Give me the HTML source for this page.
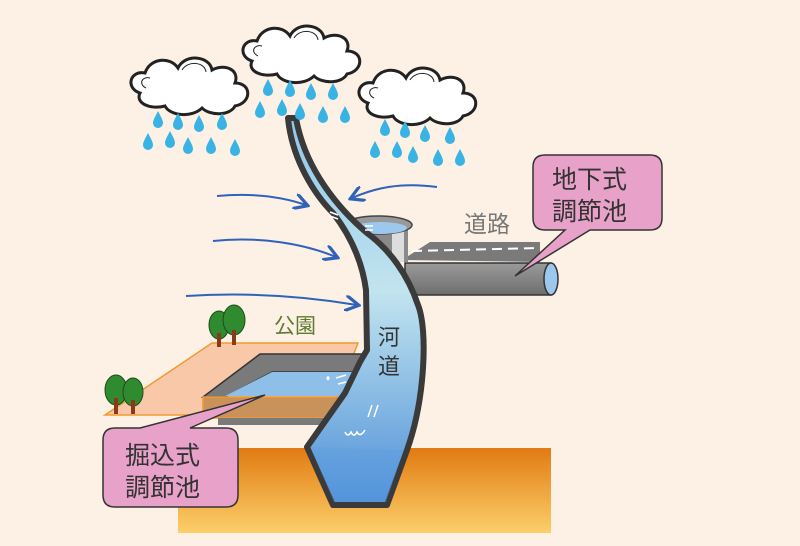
<!DOCTYPE html>
<html><head><meta charset="utf-8"><style>
body{margin:0;width:800px;height:546px;overflow:hidden;background:#fdf1e6}
svg{display:block}
text{font-family:"Liberation Sans","Noto Sans CJK JP",sans-serif}
</style></head><body>
<svg width="800" height="546" viewBox="0 0 800 546" xmlns="http://www.w3.org/2000/svg">
<defs>
<linearGradient id="gr" x1="0" y1="0" x2="0" y2="1"><stop offset="0" stop-color="#e27a12"/><stop offset="1" stop-color="#fbcf6a"/></linearGradient>
<linearGradient id="wt" x1="0" y1="0" x2="0" y2="1"><stop offset="0" stop-color="#8ec6ea"/><stop offset="0.45" stop-color="#c2e4ef"/><stop offset="1" stop-color="#4d8fd8"/></linearGradient>
<linearGradient id="pp" x1="0" y1="0" x2="0" y2="1"><stop offset="0" stop-color="#9a9a9a"/><stop offset="1" stop-color="#6e6e6e"/></linearGradient>
<path id="d" d="M0,-9 C3,-3 5,0 5,3 A5,5 0 0 1 -5,3 C-5,0 -3,-3 0,-9Z" fill="#38b3e4"/>
<g id="cl"><path d="M10,45 C-5,40 0,22 15,25 C20,10 40,8 48,20 C55,5 80,8 82,22 C95,15 110,22 105,35 C122,35 122,55 105,58 C100,68 80,68 72,60 C62,70 40,68 35,58 C20,62 5,55 10,45Z" fill="#fff" stroke="#222" stroke-width="3"/>
<path d="M16,40 C8,36 12,28 20,30 M52,22 C58,12 75,14 76,24" fill="none" stroke="#222" stroke-width="1"/></g>
<marker id="ah" markerWidth="8" markerHeight="8" refX="6" refY="4" orient="auto"><path d="M0,0 L7,4 L0,8" fill="none" stroke="#2f62b8" stroke-width="1.6"/></marker>
</defs>
<rect width="800" height="546" fill="#fdf1e6"/>
<!-- ground -->
<rect x="178" y="448" width="373" height="85" fill="url(#gr)"/>
<!-- park -->
<polygon points="105,415 212,343 358,343 330,415" fill="#f8c8a8" stroke="#f09a30" stroke-width="1.5"/>
<!-- trees -->
<g fill="#2f8a30" stroke="#1d4d1a" stroke-width="1">
<ellipse cx="219" cy="325" rx="10" ry="14"/><ellipse cx="234" cy="320" rx="11" ry="15"/>
<ellipse cx="116" cy="390" rx="11" ry="15"/><ellipse cx="133" cy="392" rx="10" ry="14"/></g>
<g fill="#8a3a18"><rect x="217" y="333" width="4" height="14"/><rect x="232" y="330" width="4" height="15"/><rect x="114" y="398" width="4" height="16"/><rect x="131" y="400" width="4" height="14"/></g>
<!-- dug pond -->
<polygon points="260,354 362,354 362,372 272,372 225,397 203,397" fill="#7a7a7a" stroke="#333" stroke-width="1.5"/>
<polygon points="272,372 362,372 350,396 225,396" fill="#8dbfe8"/>
<polygon points="203,397 342,397 330,418 203,418" fill="#c8925a" stroke="#f09a30" stroke-width="1.5"/>
<polygon points="218,418 330,418 330,425 218,425" fill="#7a7a7a"/>
<!-- road -->
<polygon points="402,260 430,242 540,242 540,262" fill="#7a7a7a"/>
<line x1="412" y1="251" x2="540" y2="248" stroke="#fff" stroke-width="2" stroke-dasharray="10,6"/>
<!-- pipe -->
<rect x="405" y="263" width="146" height="32" fill="url(#pp)" stroke="#333" stroke-width="1.5"/>
<ellipse cx="551" cy="279" rx="7" ry="16" fill="#9dc8ee" stroke="#333" stroke-width="1.5"/>
<!-- round pond -->
<rect x="372" y="224" width="36" height="38" fill="#8a8a8a"/>
<rect x="392" y="228" width="12" height="34" fill="#ddd"/>
<ellipse cx="378" cy="225" rx="34" ry="9" fill="#999" stroke="#444" stroke-width="1.5"/>
<ellipse cx="380" cy="228" rx="27" ry="6" fill="#9dc8ee"/>
<!-- river -->
<path d="M288,118 C292,160 315,195 333,213 C350,235 362,260 366,290 L367,350 L360,362 L345,393 L307,447 L333,505 L387,505 L407,450 C425,400 428,330 418,305 C408,275 390,250 367,233 C340,210 305,170 296,118Z" fill="url(#wt)" stroke="#3a3a3a" stroke-width="6" stroke-linejoin="round"/>
<polygon points="310,447 334,502 386,502 404,450" fill="#5c9ce0" opacity="0.35"/>
<g stroke="#fff" stroke-width="1.5" fill="none"><path d="M330,212 l8,3 M330,216 l8,3"/><path d="M365,226 l8,0 M365,230 l8,0"/><path d="M328,380 c-3,-4 3,-4 0,0 M336,378 l10,-3 M338,384 l8,-2"/><path d="M372,405 l-4,12 M378,405 l-4,12"/><path d="M345,432 q3,6 6,0 q3,6 6,0 q3,6 8,-2"/></g>
<!-- wind arrows -->
<g fill="none" stroke="#2f62b8" stroke-width="2" marker-end="url(#ah)">
<path d="M217,196 C250,193 280,196 306,205"/>
<path d="M213,241 C260,236 305,244 336,257"/>
<path d="M186,296 C250,292 310,297 357,305"/>
<path d="M437,187 C400,182 375,188 352,198"/>
</g>
<!-- clouds -->
<use href="#cl" transform="translate(130,48)"/>
<use href="#cl" transform="translate(242,16)"/>
<use href="#cl" transform="translate(358,58)"/>
<g>
<use href="#d" x="158" y="120"/><use href="#d" x="178" y="122"/><use href="#d" x="199" y="124"/><use href="#d" x="222" y="122"/>
<use href="#d" x="148" y="142"/><use href="#d" x="170" y="140"/><use href="#d" x="188" y="146"/><use href="#d" x="211" y="146"/><use href="#d" x="235" y="148"/>
<use href="#d" x="268" y="88"/><use href="#d" x="290" y="89"/><use href="#d" x="311" y="92"/><use href="#d" x="333" y="92"/>
<use href="#d" x="260" y="110"/><use href="#d" x="282" y="108"/><use href="#d" x="300" y="112"/><use href="#d" x="323" y="115"/><use href="#d" x="345" y="115"/>
<use href="#d" x="385" y="128"/><use href="#d" x="405" y="130"/><use href="#d" x="425" y="134"/><use href="#d" x="450" y="136"/>
<use href="#d" x="375" y="150"/><use href="#d" x="397" y="150"/><use href="#d" x="413" y="155"/><use href="#d" x="438" y="158"/><use href="#d" x="460" y="158"/>
</g>
<!-- labels -->
<text x="464" y="232" font-size="23" fill="#777">道路</text>
<text x="274" y="333" font-size="21" fill="#5e7a30">公園</text>
<text x="378" y="345" font-size="22" fill="#333">河</text>
<text x="378" y="374" font-size="22" fill="#333">道</text>
<!-- callout top right -->
<path d="M545,155 L650,155 Q662,155 662,167 L662,218 Q662,230 650,230 L590,230 L515,276 L565,230 L545,230 Q533,230 533,218 L533,167 Q533,155 545,155Z" fill="#e8a1c8" stroke="#333" stroke-width="1.5"/>
<text x="552" y="188" font-size="25" fill="#333">地下式</text>
<text x="552" y="220" font-size="25" fill="#333">調節池</text>
<!-- callout bottom left -->
<path d="M115,428 L140,428 L265,395 L190,428 L226,428 Q238,428 238,440 L238,495 Q238,507 226,507 L115,507 Q103,507 103,495 L103,440 Q103,428 115,428Z" fill="#e8a1c8" stroke="#333" stroke-width="1.5"/>
<text x="125" y="464" font-size="25" fill="#333">掘込式</text>
<text x="125" y="496" font-size="25" fill="#333">調節池</text>
</svg>
</body></html>
